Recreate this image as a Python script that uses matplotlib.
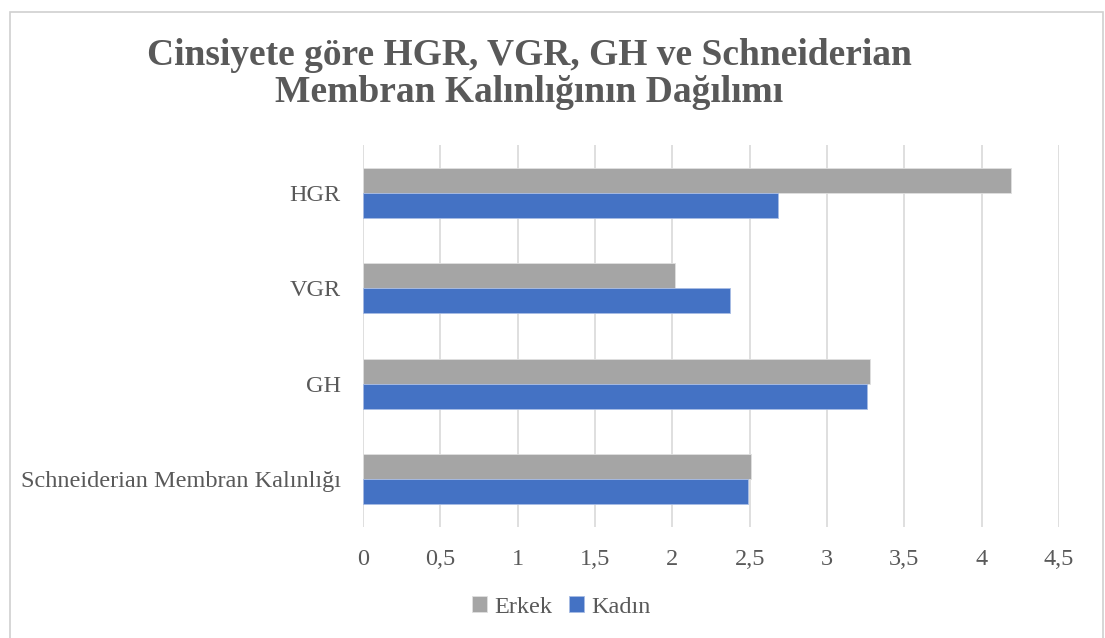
import numpy as np
import matplotlib.pyplot as plt
from matplotlib.patches import Rectangle

plt.rcParams['font.family'] = ['Liberation Serif', 'DejaVu Serif']

categories = ['HGR', 'VGR', 'GH', 'Schneiderian Membran Kalınlığı']
erkek = [4.19, 2.02, 3.28, 2.51]
kadin = [2.68, 2.37, 3.26, 2.49]
xticks = [0, 0.5, 1, 1.5, 2, 2.5, 3, 3.5, 4, 4.5]
xtick_labels = ['0', '0,5', '1', '1,5', '2', '2,5', '3', '3,5', '4', '4,5']

gray = '#a5a5a5'
blue = '#4472c4'
text_col = '#595959'

fig = plt.figure(figsize=(11.05, 6.38), dpi=100)
fig.patch.set_facecolor('white')

# outer chart frame
fig.patches.append(Rectangle((10 / 1105, -0.01), 1093 / 1105, 1 - 12 / 638 + 0.01,
                             transform=fig.transFigure, fill=False,
                             edgecolor='#d0d0d0', linewidth=1.2))

ax = fig.add_axes([363 / 1105, 1 - 527 / 638, (1059 - 363) / 1105, (527 - 145) / 638])

y = np.arange(len(categories))
h = 0.262
ax.barh(y - h / 2, erkek, height=h, color=gray, edgecolor='#e0e0e0', linewidth=0.6, label='Erkek', zorder=3)
ax.barh(y + h / 2, kadin, height=h, color=blue, edgecolor='#a8bce4', linewidth=0.6, label='Kadın', zorder=3)

ax.set_ylim(len(categories) - 0.5, -0.5)
ax.set_xlim(0, 4.5)
ax.set_xticks(xticks)
ax.set_xticklabels(xtick_labels, fontsize=17.5, color=text_col)
ax.set_yticks(y)
ax.set_yticklabels(categories, fontsize=17.5, color=text_col)
ax.tick_params(length=0)
ax.tick_params(axis='x', pad=16)
ax.tick_params(axis='y', pad=16)
ax.grid(axis='x', color='#d9d9d9', linewidth=1.2, zorder=0)
for s in ax.spines.values():
    s.set_visible(False)

fig.text(0.479, 1 - 74 / 638, 'Cinsiyete göre HGR, VGR, GH ve Schneiderian\nMembran Kalınlığının Dağılımı',
         ha='center', va='center', fontsize=27, fontweight='bold', color=text_col, linespacing=1.08)

leg = fig.legend(loc='center', bbox_to_anchor=(0.508, 1 - 607 / 638), ncol=2, frameon=False,
                 fontsize=17.5, handlelength=0.6, handleheight=0.6, handletextpad=0.3, columnspacing=0.7)
for t in leg.get_texts():
    t.set_color(text_col)

fig.savefig('out.png', dpi=100, facecolor='white')
